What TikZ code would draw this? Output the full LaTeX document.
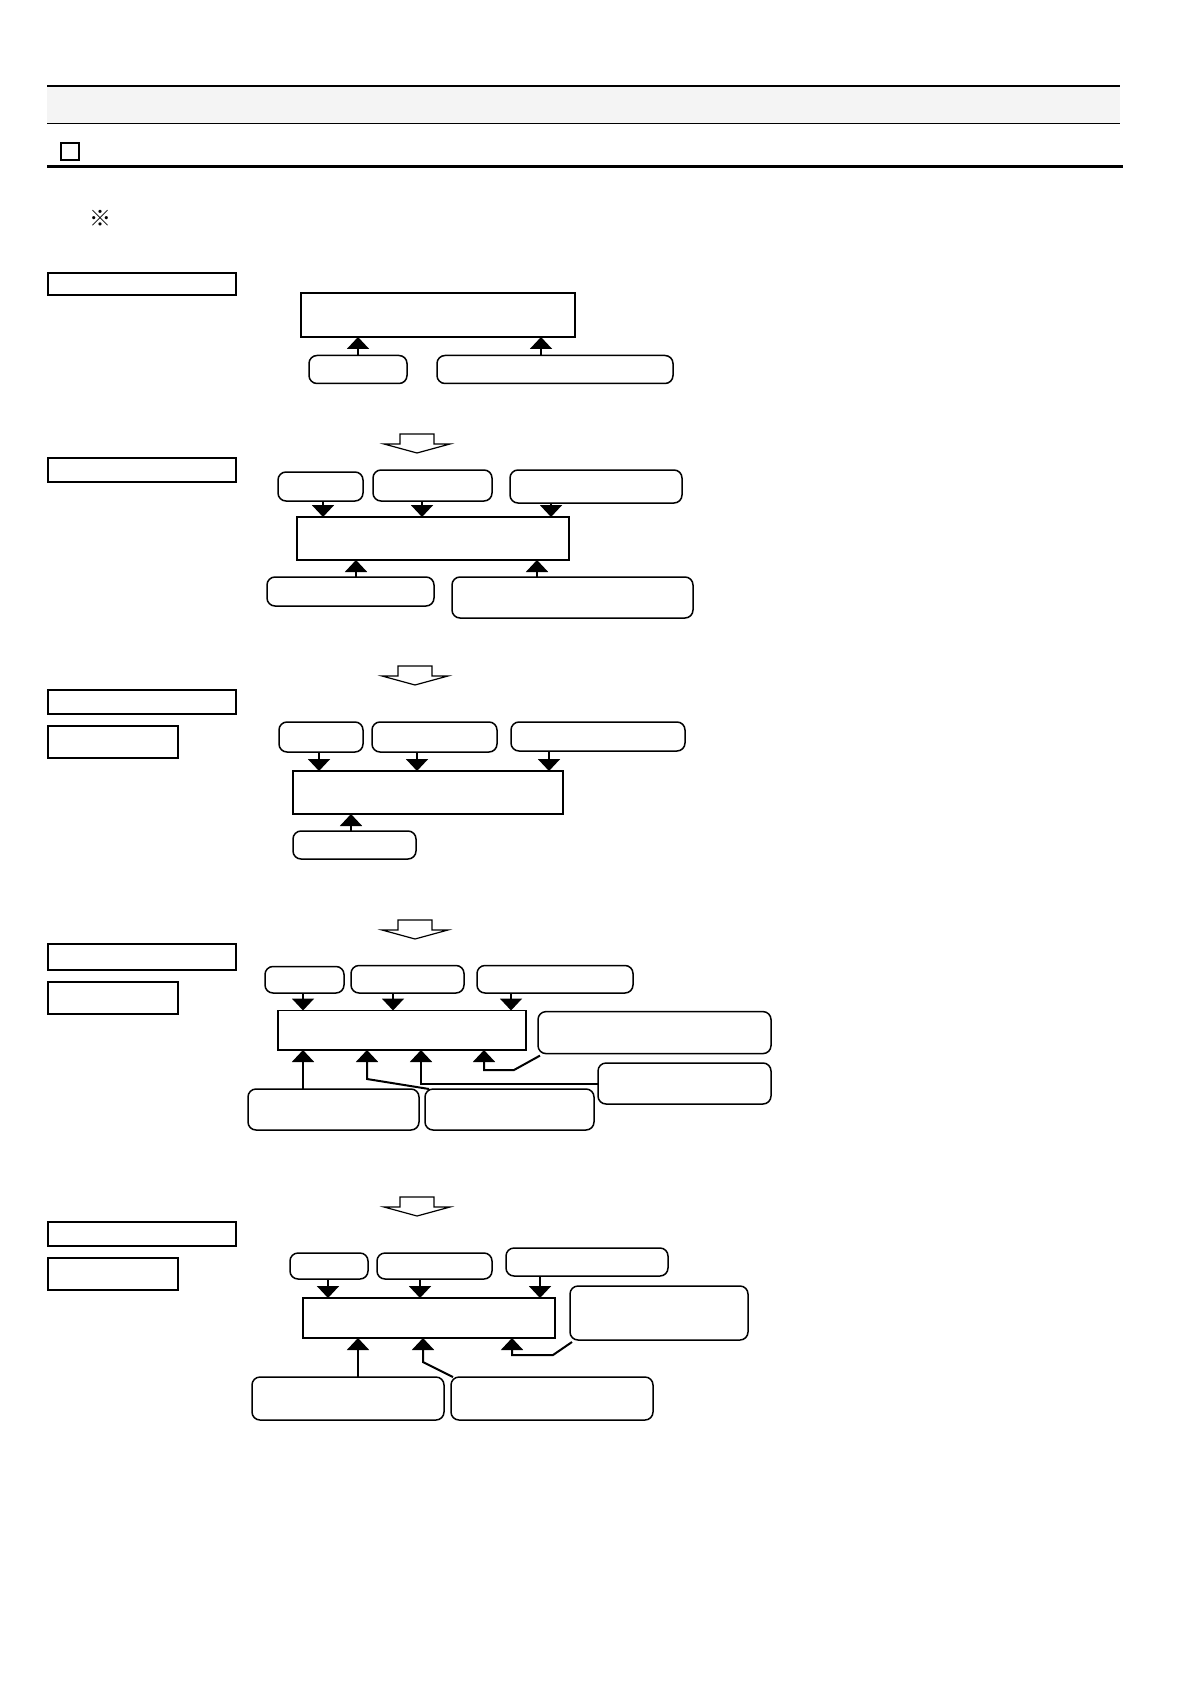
\documentclass[tikz,border=0pt]{standalone}
\usepackage{fontspec}
\newfontfamily\jpfont{Noto Sans CJK JP}
\usetikzlibrary{arrows.meta}
\definecolor{bandgray}{RGB}{244,244,244}
\tikzset{
  px/.style 2 args={minimum width=#1*0.5pt, minimum height=#2*0.5pt},
  plain/.style={draw, inner sep=0pt, outer sep=0pt, anchor=north west},
  stepbox/.style={plain, line width=1pt},
  corebox/.style={plain, line width=0.9pt},
  roundbox/.style={plain, rounded corners=4pt, line width=0.75pt},
  arrdown/.style={line width=1pt, -{Triangle[width=11pt,length=6pt]}},
  arrup/.style={line width=1pt, -{Triangle[width=11pt,length=6pt]}},
  bigarrow/.pic={
    \draw[line width=0.6pt] (-17,0) -- (17,0) -- (17,10) -- (33,10) -- (0,19)
      -- (-33,10) -- (-17,10) -- cycle;
  }
}
\begin{document}
\begin{tikzpicture}[x=0.5pt, y=-0.5pt]
  \useasboundingbox (0,0) rectangle (1191,1684);
  % header
  \fill[bandgray] (47,86.5) rectangle (1120,123);
  \draw[line width=0.6pt] (47,86) -- (1120,86);
  \draw[line width=0.6pt] (47,123.5) -- (1120,123.5);
  \draw[line width=0.6pt] (61,143) rectangle (79,160);
  \draw[line width=1.3pt] (47,166.5) -- (1123,166.5);
  \node[font=\jpfont\fontsize{11pt}{11pt}\selectfont] (note) at (100,218) {※};

  % step 1
  \node[stepbox, px={188}{22}] (step1) at (48,273) {};
  \node[corebox, px={274}{44}] (core1) at (301,293) {};
  \node[roundbox, px={98}{28}] (bot1a) at (309,355.5) {};
  \node[roundbox, px={236}{28}] (bot1b) at (437,355.5) {};
  \foreach \x/\b in {358/bot1a, 541/bot1b}
    \draw[arrup] (\x,0 |- \b.north) -- (\x,0 |- core1.south);
  \pic at (417,434) {bigarrow};

  % step 2
  \node[stepbox, px={188}{24.5}] (step2) at (48,457.5) {};
  \node[roundbox, px={85}{29}] (top2a) at (278,472) {};
  \node[roundbox, px={119}{31}] (top2b) at (373,470) {};
  \node[roundbox, px={172}{33}] (top2c) at (510,470) {};
  \node[corebox, px={272}{43}] (core2) at (297,517) {};
  \node[roundbox, px={167}{29}] (bot2a) at (267,577) {};
  \node[roundbox, px={241}{41}] (bot2b) at (452,577) {};
  \foreach \x/\b in {323/top2a, 422/top2b, 551/top2c}
    \draw[arrdown] (\x,0 |- \b.south) -- (\x,0 |- core2.north);
  \foreach \x/\b in {356/bot2a, 537/bot2b}
    \draw[arrup] (\x,0 |- \b.north) -- (\x,0 |- core2.south);
  \pic at (415,666) {bigarrow};

  % step 3
  \node[stepbox, px={188}{24}] (step3) at (48,690) {};
  \node[stepbox, px={130}{32}] (sub3) at (48,726) {};
  \node[roundbox, px={84}{30}] (top3a) at (279,722) {};
  \node[roundbox, px={125}{30}] (top3b) at (372,722) {};
  \node[roundbox, px={174}{29}] (top3c) at (511,722) {};
  \node[corebox, px={270}{43}] (core3) at (293,771) {};
  \node[roundbox, px={123}{28}] (bot3a) at (293,831) {};
  \foreach \x/\b in {319/top3a, 417/top3b, 549/top3c}
    \draw[arrdown] (\x,0 |- \b.south) -- (\x,0 |- core3.north);
  \draw[arrup] (351,0 |- bot3a.north) -- (351,0 |- core3.south);
  \pic at (415,920) {bigarrow};

  % step 4
  \node[stepbox, px={188}{26}] (step4) at (48,944) {};
  \node[stepbox, px={130}{32.5}] (sub4) at (48,981.5) {};
  \node[roundbox, px={79}{26.5}] (top4a) at (265,966.5) {};
  \node[roundbox, px={113}{27.5}] (top4b) at (351,965.5) {};
  \node[roundbox, px={156}{27.5}] (top4c) at (477,965.5) {};
  \node[corebox, px={248}{39.5}] (core4) at (278,1010.5) {};
  \node[roundbox, px={233}{42}] (side4a) at (538,1011.6) {};
  \node[roundbox, px={173}{41}] (side4b) at (598,1063) {};
  \node[roundbox, px={171}{41}] (bot4a) at (248,1089) {};
  \node[roundbox, px={169}{41}] (bot4b) at (425,1089) {};
  \foreach \x/\b in {303/top4a, 393/top4b, 511/top4c}
    \draw[arrdown] (\x,0 |- \b.south) -- (\x,0 |- core4.north);
  \draw[arrup] (303,0 |- bot4a.north) -- (303,0 |- core4.south);
  \draw[arrup] ([xshift=2pt]bot4b.north west) -- (367,1079) -- (367,0 |- core4.south);
  \draw[arrup] (side4b.west) -| (421,0 |- core4.south);
  \draw[arrup] ([xshift=1pt,yshift=-1pt]side4a.south west) -- (514,1070) -- (484,1070)
    -- (484,0 |- core4.south);
  \pic at (417,1197) {bigarrow};

  % step 5
  \node[stepbox, px={188}{24}] (step5) at (48,1222) {};
  \node[stepbox, px={130}{32.5}] (sub5) at (48,1257.5) {};
  \node[roundbox, px={78}{26}] (top5a) at (290,1253) {};
  \node[roundbox, px={115}{26}] (top5b) at (377,1253) {};
  \node[roundbox, px={162}{28}] (top5c) at (506,1248) {};
  \node[corebox, px={252}{40}] (core5) at (303,1298) {};
  \node[roundbox, px={178}{54}] (side5) at (570,1286) {};
  \node[roundbox, px={192}{43}] (bot5a) at (252,1377) {};
  \node[roundbox, px={202}{43}] (bot5b) at (451,1377) {};
  \foreach \x/\b in {328/top5a, 420/top5b, 540/top5c}
    \draw[arrdown] (\x,0 |- \b.south) -- (\x,0 |- core5.north);
  \draw[arrup] (358,0 |- bot5a.north) -- (358,0 |- core5.south);
  \draw[arrup] ([xshift=1pt]bot5b.north west) -- (423,1362) -- (423,0 |- core5.south);
  \draw[arrup] ([xshift=1pt,yshift=-1pt]side5.south west) -- (553,1355) -- (512,1355)
    -- (512,0 |- core5.south);
\end{tikzpicture}
\end{document}
